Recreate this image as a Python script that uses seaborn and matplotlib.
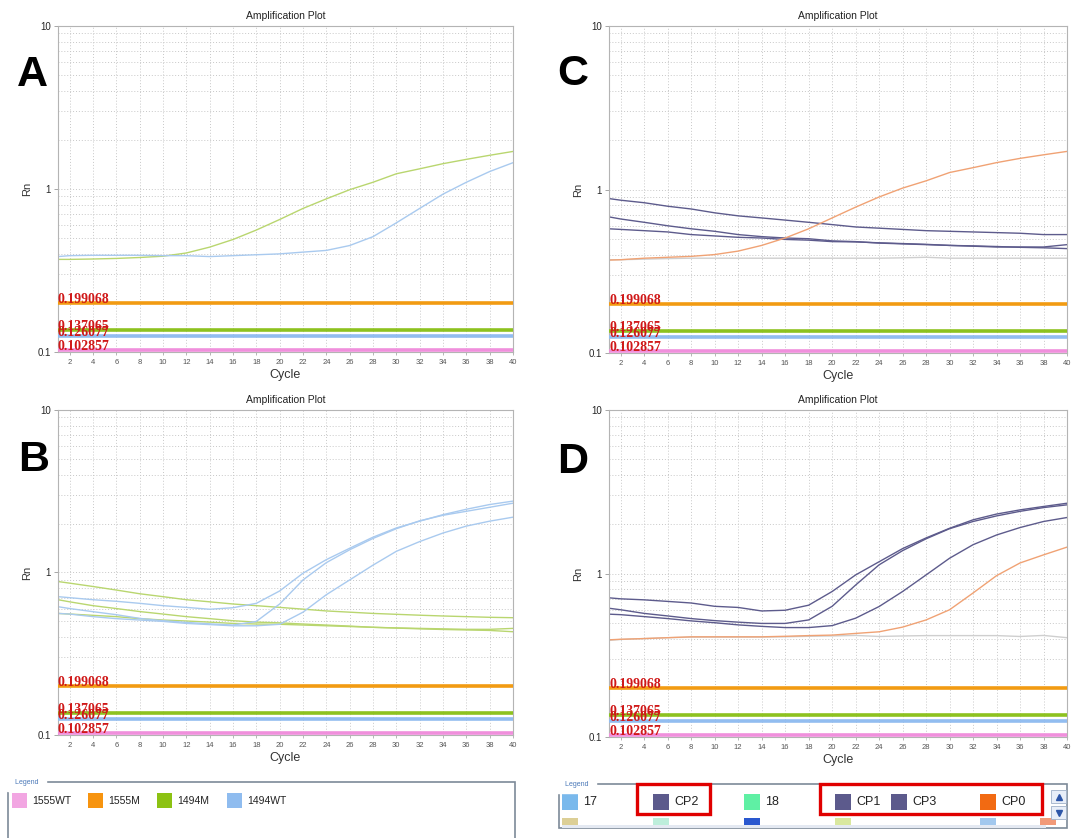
#%%
import matplotlib.pyplot as plt
import pandas as pd
import seaborn as sns
from matplotlib.lines import Line2D
from matplotlib.patches import Rectangle
from matplotlib.ticker import FixedLocator, LogLocator, NullFormatter

sns.set_theme(style="white")
plt.rcParams["font.family"] = ["Liberation Sans", "DejaVu Sans"]

W, H = 1072, 838

#%% data
cycles = [1, 2, 4, 6, 8, 10, 12, 14, 16, 18, 20, 22, 24, 26, 28, 30, 32, 34, 36, 38, 40]

thr_values = [0.199068, 0.137065, 0.126077, 0.102857]
thr_labels = ["0.199068", "0.137065", "0.126077", "0.102857"]
thr_colors = ["#f29b12", "#8dc21f", "#92bdf0", "#f08fdc"]

# panel A
a_1494m = [0.37, 0.37, 0.372, 0.375, 0.38, 0.387, 0.405, 0.44, 0.49, 0.56, 0.65, 0.76,
           0.87, 0.99, 1.10, 1.24, 1.33, 1.43, 1.52, 1.61, 1.70]
a_1494wt = [0.385, 0.39, 0.392, 0.392, 0.392, 0.39, 0.39, 0.385, 0.39, 0.395, 0.40, 0.41,
            0.42, 0.45, 0.51, 0.62, 0.76, 0.93, 1.10, 1.28, 1.45]

# panel B
b_1494m_1 = [0.88, 0.86, 0.82, 0.78, 0.74, 0.71, 0.68, 0.66, 0.64, 0.625, 0.61, 0.595,
             0.58, 0.57, 0.56, 0.553, 0.546, 0.54, 0.535, 0.53, 0.527]
b_1494m_2 = [0.68, 0.66, 0.625, 0.60, 0.575, 0.555, 0.535, 0.52, 0.505, 0.495, 0.49, 0.482,
             0.475, 0.468, 0.46, 0.455, 0.45, 0.446, 0.443, 0.44, 0.432]
b_1494m_3 = [0.56, 0.555, 0.545, 0.535, 0.52, 0.51, 0.503, 0.495, 0.486, 0.482, 0.48, 0.475,
             0.47, 0.465, 0.46, 0.456, 0.453, 0.45, 0.447, 0.447, 0.453]
b_1494wt_1 = [0.71, 0.70, 0.68, 0.665, 0.646, 0.625, 0.61, 0.594, 0.607, 0.646, 0.77, 0.99,
              1.20, 1.41, 1.65, 1.88, 2.07, 2.27, 2.45, 2.62, 2.75]
b_1494wt_2 = [0.616, 0.60, 0.574, 0.55, 0.522, 0.505, 0.493, 0.483, 0.475, 0.50, 0.64, 0.90,
              1.15, 1.38, 1.62, 1.86, 2.08, 2.25, 2.38, 2.52, 2.67]
b_1494wt_3 = [0.56, 0.555, 0.535, 0.52, 0.51, 0.50, 0.486, 0.478, 0.47, 0.47, 0.48, 0.57,
              0.73, 0.90, 1.11, 1.35, 1.55, 1.75, 1.93, 2.07, 2.19]

# panel C
c_cp0 = [0.37, 0.372, 0.38, 0.385, 0.39, 0.40, 0.42, 0.455, 0.505, 0.575, 0.67, 0.78,
         0.90, 1.02, 1.13, 1.27, 1.36, 1.46, 1.55, 1.63, 1.71]
c_cp1 = [0.88, 0.86, 0.83, 0.79, 0.76, 0.72, 0.69, 0.67, 0.65, 0.63, 0.61, 0.59,
         0.58, 0.57, 0.56, 0.555, 0.55, 0.545, 0.54, 0.53, 0.53]
c_cp2 = [0.68, 0.66, 0.63, 0.60, 0.575, 0.555, 0.53, 0.515, 0.505, 0.50, 0.485, 0.48,
         0.47, 0.465, 0.46, 0.455, 0.45, 0.445, 0.445, 0.445, 0.46]
c_cp3 = [0.575, 0.57, 0.56, 0.55, 0.53, 0.52, 0.51, 0.505, 0.495, 0.49, 0.48, 0.478,
         0.472, 0.467, 0.462, 0.455, 0.452, 0.448, 0.443, 0.44, 0.435]
c_17 = [0.372, 0.372, 0.375, 0.378, 0.38, 0.38, 0.38, 0.38, 0.38, 0.38, 0.38, 0.38,
        0.38, 0.382, 0.385, 0.38, 0.38, 0.38, 0.38, 0.38, 0.38]

# panel D
d_cp0 = [0.393, 0.396, 0.40, 0.405, 0.41, 0.41, 0.41, 0.41, 0.413, 0.417, 0.42, 0.43,
         0.44, 0.47, 0.52, 0.60, 0.76, 0.97, 1.16, 1.30, 1.45]
d_cp1 = [0.71, 0.70, 0.69, 0.675, 0.66, 0.63, 0.62, 0.59, 0.596, 0.64, 0.776, 0.98,
         1.18, 1.42, 1.65, 1.89, 2.13, 2.31, 2.45, 2.57, 2.69]
d_cp2 = [0.613, 0.60, 0.57, 0.55, 0.53, 0.515, 0.504, 0.495, 0.495, 0.52, 0.63, 0.85,
         1.13, 1.38, 1.63, 1.88, 2.08, 2.25, 2.40, 2.53, 2.63]
d_cp3 = [0.564, 0.56, 0.545, 0.53, 0.513, 0.50, 0.485, 0.475, 0.467, 0.467, 0.48, 0.533,
         0.628, 0.776, 0.98, 1.24, 1.50, 1.72, 1.91, 2.08, 2.20]
d_17 = [0.39, 0.395, 0.40, 0.405, 0.408, 0.408, 0.408, 0.408, 0.41, 0.413, 0.415, 0.418,
        0.412, 0.415, 0.417, 0.417, 0.417, 0.417, 0.412, 0.418, 0.405]

c_green, c_blue = "#b9d66f", "#a9caef"
c_purple, c_orange, c_gray = "#5d5b8c", "#f0a274", "#cfcfcf"

panels = {
    "A": {"1494M": (a_1494m, c_green), "1494WT": (a_1494wt, c_blue)},
    "B": {"1494M-1": (b_1494m_1, c_green), "1494M-2": (b_1494m_2, c_green),
          "1494M-3": (b_1494m_3, c_green), "1494WT-1": (b_1494wt_1, c_blue),
          "1494WT-2": (b_1494wt_2, c_blue), "1494WT-3": (b_1494wt_3, c_blue)},
    "C": {"17": (c_17, c_gray), "CP1": (c_cp1, c_purple), "CP2": (c_cp2, c_purple),
          "CP3": (c_cp3, c_purple), "CP0": (c_cp0, c_orange)},
    "D": {"17": (d_17, c_gray), "CP1": (d_cp1, c_purple), "CP2": (d_cp2, c_purple),
          "CP3": (d_cp3, c_purple), "CP0": (d_cp0, c_orange)},
}

# axes boxes in pixels: left, top, right, bottom
boxes = {"A": (58, 26, 513, 352), "C": (609, 26, 1067, 353),
         "B": (58, 410, 513, 735), "D": (609, 410, 1067, 737)}
letters = {"A": (17, 86), "C": (557, 85), "B": (18, 471), "D": (557, 473)}


def fx(x):
    return x / W


def fy(y):
    return 1 - y / H


#%% plots
fig = plt.figure(figsize=(W / 100, H / 100), dpi=100)
fig.patch.set_facecolor("white")

for key, wells in panels.items():
    l, t, r, b = boxes[key]
    ax = fig.add_axes([fx(l), fy(b), (r - l) / W, (b - t) / H])
    df = pd.concat(
        [pd.DataFrame({"cycle": cycles, "rn": vals, "well": name})
         for name, (vals, _) in wells.items()]
    )
    pal = {name: col for name, (_, col) in wells.items()}
    sns.lineplot(data=df, x="cycle", y="rn", hue="well", hue_order=list(wells),
                 palette=pal, estimator=None, legend=False, lw=1.0, ax=ax)
    for val, lab, col in zip(thr_values, thr_labels, thr_colors):
        ax.axhline(val, color=col, lw=2.6, zorder=3)
    for val, lab in zip(thr_values, thr_labels):
        ax.text(1, val, lab, color="#d01818", fontsize=10, fontweight="bold",
                family=["Liberation Serif", "DejaVu Serif"], ha="left",
                va="baseline", zorder=4)

    ax.set_yscale("log")
    ax.set_ylim(0.1, 10)
    ax.set_xlim(1, 40)
    ax.set_yticks([0.1, 1, 10], labels=["0.1", "1", "10"])
    ax.yaxis.set_minor_locator(LogLocator(base=10, subs=range(2, 10)))
    ax.yaxis.set_minor_formatter(NullFormatter())
    ax.xaxis.set_major_locator(FixedLocator(range(2, 41, 2)))
    ax.grid(which="both", axis="y", ls=(0, (1, 2)), color="#c8c8c8", lw=0.7)
    ax.grid(which="major", axis="x", ls=(0, (1, 2)), color="#c8c8c8", lw=0.7)
    ax.tick_params(axis="y", which="major", labelsize=7, length=3, width=0.6,
                   pad=2, color="#999999", left=True)
    ax.tick_params(axis="y", which="minor", length=0)
    ax.tick_params(axis="x", labelsize=5.5, length=2, width=0.6, pad=3,
                   color="#aaaaaa", labelcolor="#555555", bottom=True)
    for sp in ax.spines.values():
        sp.set_color("#b4b4b4")
        sp.set_linewidth(0.8)
    ax.set_title("Amplification Plot", fontsize=7.5, pad=5, color="#222222")
    ax.set_xlabel("Cycle", fontsize=9, labelpad=2, color="#333333")
    ax.set_ylabel("Rn", fontsize=8, labelpad=4, color="#333333")

    lx, ly = letters[key]
    fig.text(fx(lx), fy(ly), key, fontsize=31, fontweight="bold",
             ha="left", va="baseline", color="black")

#%% legend panels
leg1 = ["1555WT", "1555M", "1494M", "1494WT"]
leg1_colors = ["#f2a6e2", "#f7940f", "#8cc213", "#8fbcef"]
leg1_sq = [12, 88, 157, 227]

leg2 = ["17", "CP2", "18", "CP1", "CP3", "CP0"]
leg2_colors = ["#7ab9ec", "#5c5a8c", "#5ff0a4", "#5c5a8c", "#5c5a8c", "#f26a12"]
leg2_sq = [562, 653, 744, 835, 891, 980]
leg2_row2 = ["#dccf96", "#bdeedb", "#2a58cf", "#d9e89f", "#a2c8ee", "#f29a78"]
leg2_row2_sq = [562, 653, 744, 835, 980, 1040]


def frame(x0, y0, x1, y1, **kw):
    fig.add_artist(Rectangle((fx(x0), fy(y1)), (x1 - x0) / W, (y1 - y0) / H,
                             transform=fig.transFigure, **kw))


# left legend
frame(8, 782, 515, 845, fill=False, ec="#7d8a98", lw=1.2)
fig.text(fx(13), fy(782), " Legend ", fontsize=5, color="#4a78b8", va="center",
         ha="left", backgroundcolor="white")
for name, col, x in zip(leg1, leg1_colors, leg1_sq):
    frame(x, 793, x + 15, 808, fc=col, ec="none")
    fig.text(fx(x + 20), fy(801), name, fontsize=7.5, va="center", ha="left",
             color="#222222")

# right legend
frame(559, 784, 1067, 828, fill=False, ec="#7d8a98", lw=1.2)
fig.text(fx(563), fy(784), " Legend ", fontsize=5, color="#4a78b8", va="center",
         ha="left", backgroundcolor="white")
for name, col, x in zip(leg2, leg2_colors, leg2_sq):
    frame(x, 794, x + 16, 810, fc=col, ec="none")
    fig.text(fx(x + 21), fy(802), name, fontsize=9, va="center", ha="left",
             color="#222222")
for col, x in zip(leg2_row2, leg2_row2_sq):
    frame(x, 818, x + 16, 825, fc=col, ec="none")
frame(562, 825, 1046, 828, fc="#e4e9f2", ec="none")
# scroll buttons
frame(1051, 790, 1066, 803, fc="#e8eef8", ec="#9fb0c8", lw=0.6)
frame(1051, 806, 1066, 819, fc="#e8eef8", ec="#9fb0c8", lw=0.6)
fig.add_artist(Line2D([fx(1058.5)], [fy(796.5)], marker="^", ms=5, color="#2d56a8",
                      transform=fig.transFigure))
fig.add_artist(Line2D([fx(1058.5)], [fy(812.5)], marker="v", ms=5, color="#2d56a8",
                      transform=fig.transFigure))

# red highlight boxes
frame(637, 784, 710, 814, fill=False, ec="#e00000", lw=2.4)
frame(820, 784, 1042, 814, fill=False, ec="#e00000", lw=2.4)

fig.savefig("out.png", dpi=100, facecolor="white")
